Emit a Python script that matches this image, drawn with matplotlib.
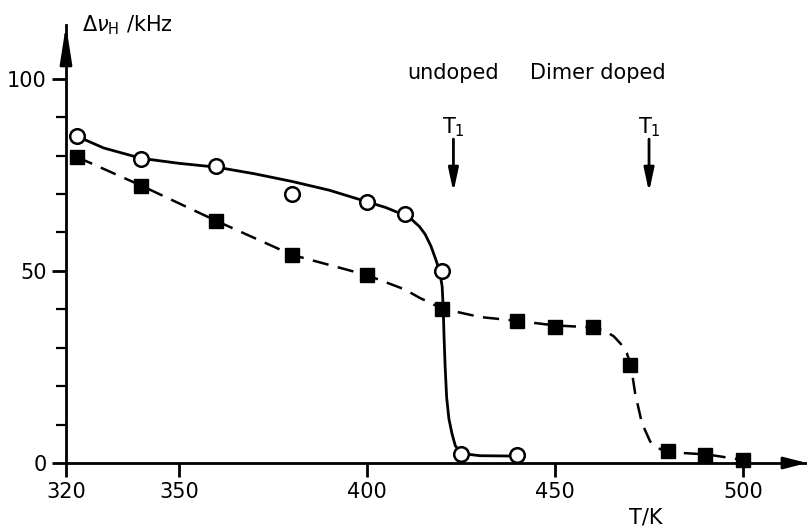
import numpy as np
import matplotlib
matplotlib.use("Agg")
import matplotlib.pyplot as plt

plt.rcParams['font.family'] = ['DejaVu Sans']
plt.rcParams['mathtext.fontset'] = 'dejavusans'

# measured points
T_undoped = [323, 340, 360, 380, 400, 410, 420, 425, 440]
dv_undoped = [85, 79.2, 77.2, 70, 68, 64.8, 50, 2.4, 2.2]

T_dimer = [323, 340, 360, 380, 400, 420, 440, 450, 460, 470, 480, 490, 500]
dv_dimer = [79.6, 72.2, 63, 54.2, 48.9, 40, 37, 35.5, 35.5, 25.4, 3, 2.2, 0.8]

# guide curves
curve_T_undoped = [323, 330, 340, 350, 360, 370, 380, 390, 400, 405, 410, 412,
                   414, 415.5, 417, 418.3, 419.3, 420, 420.3, 420.5, 420.8,
                   421.2, 421.8, 422.6, 423.5, 425, 430, 440]
curve_dv_undoped = [85, 82, 79.3, 78, 77, 75.3, 73.3, 71, 68, 66.5, 64.5, 63.3,
                    61.5, 59.5, 56.5, 53, 50, 46, 40, 33, 25,
                    17, 11.5, 7.7, 4.5, 2.5, 1.9, 1.8]

curve_T_dimer = [323, 340, 360, 380, 400, 410, 414, 420, 430, 440, 450, 460,
                 463, 465.6, 467.5, 469.1, 470.2, 471.3, 473.1, 475.3, 478,
                 480.8, 490.6, 500]
curve_dv_dimer = [79.6, 72.2, 63, 54.2, 48.9, 45.2, 43, 40.2, 38, 37, 35.8, 35.3,
                  34.5, 33, 31, 28.6, 25.3, 18.2, 10.4, 5.6, 3.6,
                  2.8, 2.2, 0.8]

xmin, xmax = 320, 517
ymin, ymax = 0, 114

fig = plt.figure(figsize=(8.07, 5.29), dpi=100)
ax = fig.add_axes([66/807, 66/529, 1 - 66/807, (529-66-25)/529])
ax.set_xlim(xmin, xmax)
ax.set_ylim(ymin, ymax)

for s in ['top', 'right']:
    ax.spines[s].set_visible(False)
ax.spines['left'].set_linewidth(2)
ax.spines['bottom'].set_linewidth(2)

# arrow heads on the axes
ax.annotate('', xy=(xmax, 0), xytext=(xmax - 6, 0),
            arrowprops=dict(arrowstyle='-|>,head_length=1.4,head_width=0.36',
                            color='k', lw=2, shrinkA=0, shrinkB=0),
            annotation_clip=False)
ax.annotate('', xy=(xmin, ymax), xytext=(xmin, ymax - 10),
            arrowprops=dict(arrowstyle='-|>,head_length=2.3,head_width=0.36',
                            color='k', lw=2, shrinkA=0, shrinkB=0),
            annotation_clip=False)

ax.plot(curve_T_undoped, curve_dv_undoped, '-', color='k', lw=2, zorder=3)
ax.plot(curve_T_dimer, curve_dv_dimer, '--', color='k', lw=1.8,
        dashes=(6.5, 3.8), zorder=3)

ax.plot(T_undoped, dv_undoped, 'o', ms=10.5, mfc='white', mec='k', mew=1.8,
        zorder=5, clip_on=False)
ax.plot(T_dimer, dv_dimer, 's', ms=9.5, mfc='k', mec='k', zorder=5,
        clip_on=False)

ax.set_xticks([320, 350, 400, 450, 500])
ax.set_yticks([0, 50, 100])
ax.set_yticks(np.arange(10, 100, 10), minor=True)
ax.tick_params(axis='both', which='major', direction='out', length=10,
               width=2, labelsize=15, pad=4)
ax.tick_params(axis='y', which='minor', direction='out', length=7, width=1.6)

ax.text(324.3, 114, r'$\Delta\nu_{\rm H}$ /kHz', fontsize=15, ha='left',
        va='center', clip_on=False)
ax.text(474, -14.3, 'T/K', fontsize=15, ha='center', va='center',
        clip_on=False)

ax.text(423, 101.5, 'undoped', fontsize=15, ha='center', va='center')
ax.text(461.5, 101.5, 'Dimer doped', fontsize=15, ha='center', va='center')

for tx in [423, 475]:
    ax.text(tx, 87.3, r'T$_1$', fontsize=15, ha='center', va='center')
    ax.annotate('', xy=(tx, 70.5), xytext=(tx, 84.3),
                arrowprops=dict(arrowstyle='-|>,head_length=1.4,head_width=0.3',
                                color='k', lw=2, shrinkA=0, shrinkB=0))

fig.savefig('out.png', dpi=100)
